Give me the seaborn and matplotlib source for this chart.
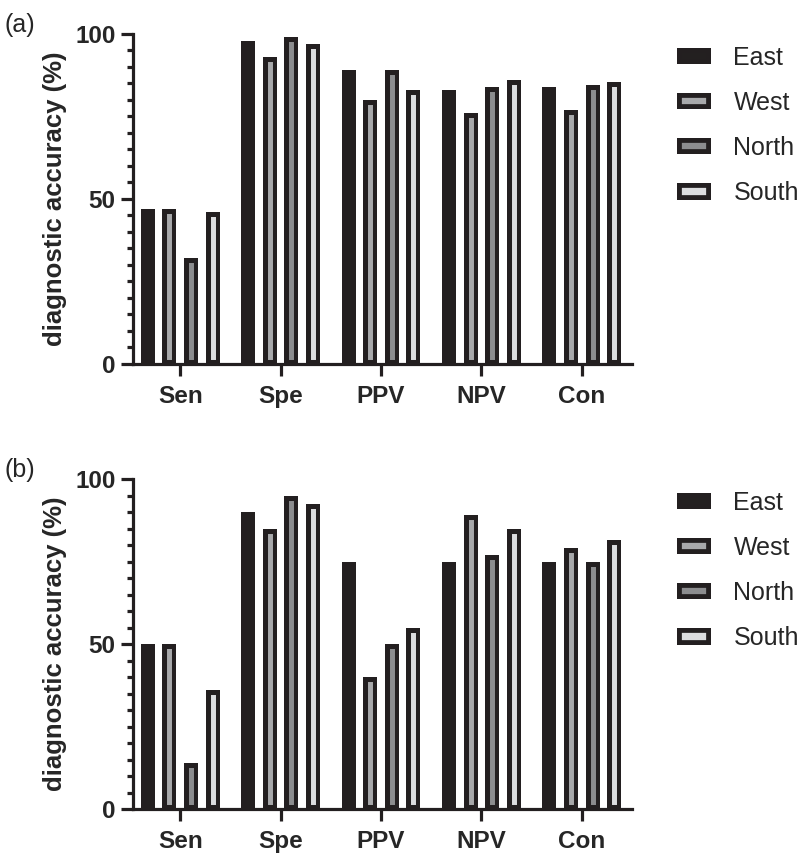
import pandas as pd
import seaborn as sns
import matplotlib.pyplot as plt
from matplotlib.ticker import MultipleLocator

# Data
measures = ["Sen", "Spe", "PPV", "NPV", "Con"]
regions = ["East", "West", "North", "South"]

# panel (a)
a_east = [47, 98, 89, 83, 84]
a_west = [47, 93, 80, 76, 77]
a_north = [32, 99, 89, 84, 84.5]
a_south = [46, 97, 83, 86, 85.5]

# panel (b)
b_east = [50, 90, 75, 75, 75]
b_west = [50, 85, 40, 89, 79]
b_north = [14, 95, 50, 77, 75]
b_south = [36, 92.5, 55, 85, 81.5]

colors = ["#231f20", "#a7a9ac", "#8b8d90", "#dcdddf"]
ink = "#231f20"


def long_form(east, west, north, south):
    rows = []
    for reg, vals in zip(regions, [east, west, north, south]):
        for m, v in zip(measures, vals):
            rows.append({"measure": m, "region": reg, "value": v})
    return pd.DataFrame(rows)


df_a = long_form(a_east, a_west, a_north, a_south)
df_b = long_form(b_east, b_west, b_north, b_south)

sns.set_theme(style="ticks")
plt.rcParams["font.family"] = ["Liberation Sans", "DejaVu Sans"]

fig = plt.figure(figsize=(8, 8.56), dpi=100)
ax_a = fig.add_axes([0.16625, 0.5748, 0.62375, 0.3855])
ax_b = fig.add_axes([0.16625, 0.0546, 0.62375, 0.3858])


def draw(ax, df):
    sns.barplot(data=df, x="measure", y="value", hue="region",
                order=measures, hue_order=regions, palette=colors,
                width=0.86, gap=0.35, edgecolor=ink, linewidth=6.5,
                errorbar=None, ax=ax)
    # keep the border inside each bar (Prism style)
    for p in ax.patches:
        p.set_clip_path(p)
    ax.set_ylim(0, 100)
    ax.set_xlim(-0.47, 4.5)
    ax.yaxis.set_major_locator(MultipleLocator(50))
    ax.yaxis.set_minor_locator(MultipleLocator(5))
    sns.despine(ax=ax)
    for side in ["left", "bottom"]:
        ax.spines[side].set_linewidth(2.3)
        ax.spines[side].set_color(ink)
        ax.spines[side].set_zorder(5)
    ax.tick_params(axis="both", which="major", length=8.5, width=2.3,
                   color=ink, labelsize=17.5, pad=4)
    ax.tick_params(axis="y", which="minor", length=4.5, width=2.3, color=ink)
    ax.tick_params(axis="x", pad=6.5)
    for lab in ax.get_xticklabels() + ax.get_yticklabels():
        lab.set_fontweight("bold")
    ax.set_xlabel("")
    ax.set_ylabel("diagnostic accuracy (%)", fontsize=18.5,
                  fontweight="bold", labelpad=6)
    handles, labels = ax.get_legend_handles_labels()
    leg = ax.legend(handles, labels, loc="upper left",
                    bbox_to_anchor=(1.09, 0.965), frameon=False, fontsize=18,
                    borderpad=0, borderaxespad=0, handlelength=1.36,
                    handleheight=0.62, handletextpad=0.9, labelspacing=0.85)
    for p in leg.get_patches():
        p.set_linewidth(7)
        p.set_clip_path(p)


draw(ax_a, df_a)
draw(ax_b, df_b)

fig.text(0.006, 0.985, "(a)", fontsize=18, va="top", ha="left")
fig.text(0.006, 0.465, "(b)", fontsize=18, va="top", ha="left")

plt.savefig("out.png", dpi=100)
